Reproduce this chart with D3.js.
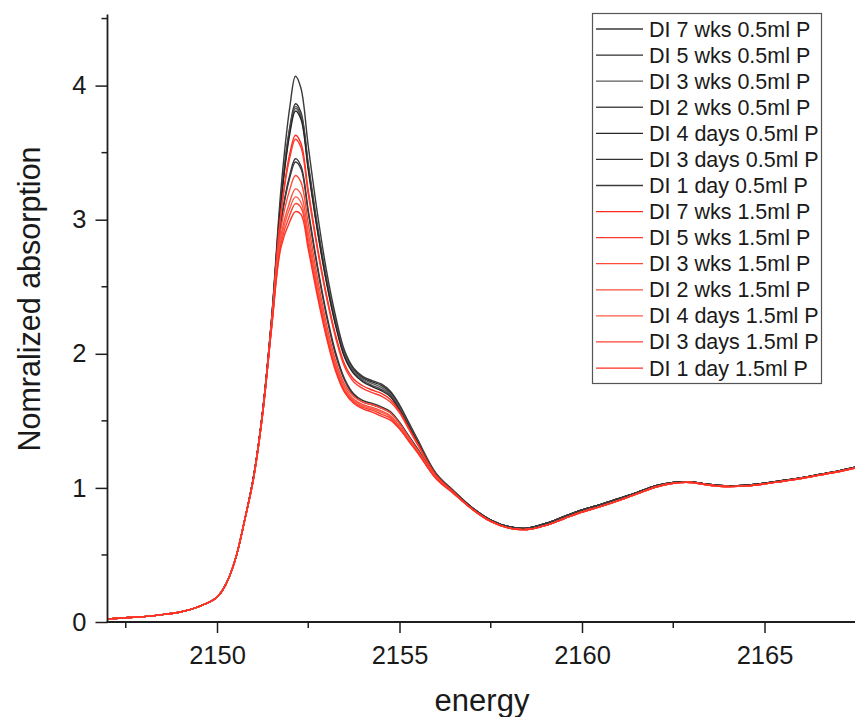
<!DOCTYPE html>
<html>
<head>
<meta charset="utf-8">
<script src="https://cdn.jsdelivr.net/npm/d3@7"></script>
<style>
  html, body { margin: 0; padding: 0; background: #fff; }
  svg { display: block; }
  text { font-family: "Liberation Sans", Arial, sans-serif; fill: #1a1a1a; }
</style>
</head>
<body>
<svg id="chart" width="855" height="717"></svg>
<script>
// ---- energy grids (eV) ----
const energyPre  = [2147.0, 2147.5, 2148.0, 2148.5, 2149.0, 2149.5, 2150.0, 2150.25, 2150.5, 2150.75];
const energyPeak = [2151.0, 2151.25, 2151.5, 2151.75, 2152.0, 2152.15, 2152.3, 2152.5, 2152.75, 2153.0, 2153.25,
                    2153.5, 2153.75, 2154.0, 2154.25, 2154.5, 2154.75, 2155.0, 2155.25, 2155.5, 2156.0, 2156.5];
const energyTail = [2157.0, 2157.5, 2158.0, 2158.5, 2159.0, 2159.5, 2160.0, 2160.5, 2161.0, 2161.5, 2162.0,
                    2162.5, 2163.0, 2163.5, 2164.0, 2164.5, 2165.0, 2165.5, 2166.0, 2166.5, 2167.0, 2167.5];

// ---- pre-edge (common to all samples) ----
const preEdge = [0.022, 0.032, 0.040, 0.055, 0.075, 0.115, 0.185, 0.285, 0.465, 0.750];

// ---- post-edge tails ----
const tailBlack = [0.850, 0.760, 0.710, 0.700, 0.735, 0.785, 0.835, 0.875, 0.920, 0.965, 1.015,
                   1.040, 1.045, 1.025, 1.015, 1.020, 1.035, 1.055, 1.075, 1.100, 1.125, 1.155];
const tailRed   = [0.840, 0.750, 0.700, 0.690, 0.720, 0.770, 0.820, 0.860, 0.905, 0.955, 1.005,
                   1.035, 1.040, 1.020, 1.010, 1.015, 1.030, 1.050, 1.070, 1.095, 1.120, 1.150];

// ---- white-line region, one array per sample ----
const peak_7wks_05  = [1.08, 1.57, 2.28, 3.22, 3.85, 4.07, 3.98, 3.55, 3.05, 2.62, 2.28, 2.02, 1.89, 1.83, 1.80, 1.775, 1.72, 1.62, 1.49, 1.36, 1.11, 0.975];
const peak_5wks_05  = [1.08, 1.57, 2.27, 3.15, 3.70, 3.865, 3.80, 3.42, 2.96, 2.56, 2.24, 2.00, 1.88, 1.82, 1.79, 1.765, 1.71, 1.61, 1.48, 1.35, 1.105, 0.97];
const peak_3wks_05  = [1.08, 1.57, 2.27, 3.14, 3.68, 3.845, 3.78, 3.40, 2.94, 2.55, 2.23, 1.99, 1.87, 1.81, 1.78, 1.75, 1.70, 1.60, 1.47, 1.35, 1.10, 0.97];
const peak_2wks_05  = [1.08, 1.57, 2.27, 3.13, 3.67, 3.83, 3.77, 3.39, 2.93, 2.54, 2.22, 1.98, 1.86, 1.80, 1.765, 1.735, 1.69, 1.59, 1.46, 1.34, 1.10, 0.965];
const peak_4days_05 = [1.08, 1.57, 2.26, 3.12, 3.65, 3.81, 3.75, 3.37, 2.92, 2.53, 2.21, 1.97, 1.85, 1.79, 1.755, 1.725, 1.68, 1.58, 1.46, 1.34, 1.095, 0.965];
const peak_3days_05 = [1.08, 1.56, 2.24, 2.98, 3.34, 3.455, 3.40, 3.07, 2.66, 2.30, 2.01, 1.81, 1.70, 1.65, 1.63, 1.605, 1.57, 1.49, 1.39, 1.29, 1.085, 0.96];
const peak_1day_05  = [1.08, 1.56, 2.24, 2.97, 3.32, 3.43, 3.38, 3.05, 2.64, 2.28, 1.99, 1.80, 1.69, 1.64, 1.62, 1.595, 1.56, 1.48, 1.38, 1.28, 1.08, 0.96];
const peak_7wks_15  = [1.07, 1.56, 2.25, 3.05, 3.50, 3.63, 3.57, 3.22, 2.80, 2.44, 2.14, 1.92, 1.81, 1.76, 1.73, 1.705, 1.66, 1.57, 1.45, 1.33, 1.095, 0.965];
const peak_5wks_15  = [1.07, 1.56, 2.25, 3.04, 3.47, 3.60, 3.54, 3.19, 2.78, 2.42, 2.12, 1.90, 1.79, 1.74, 1.71, 1.685, 1.64, 1.56, 1.44, 1.32, 1.09, 0.96];
const peak_3wks_15  = [1.07, 1.55, 2.23, 2.93, 3.23, 3.33, 3.28, 2.97, 2.57, 2.22, 1.95, 1.77, 1.68, 1.64, 1.62, 1.595, 1.56, 1.48, 1.38, 1.28, 1.08, 0.955];
const peak_2wks_15  = [1.07, 1.55, 2.22, 2.88, 3.14, 3.23, 3.19, 2.90, 2.52, 2.18, 1.92, 1.75, 1.66, 1.62, 1.60, 1.575, 1.54, 1.46, 1.37, 1.27, 1.075, 0.955];
const peak_4days_15 = [1.07, 1.55, 2.21, 2.85, 3.09, 3.17, 3.13, 2.86, 2.49, 2.16, 1.90, 1.73, 1.65, 1.61, 1.59, 1.565, 1.53, 1.45, 1.36, 1.27, 1.075, 0.955];
const peak_3days_15 = [1.07, 1.55, 2.21, 2.82, 3.04, 3.12, 3.09, 2.82, 2.46, 2.14, 1.89, 1.72, 1.64, 1.60, 1.58, 1.55, 1.52, 1.445, 1.355, 1.265, 1.07, 0.955];
const peak_1day_15  = [1.07, 1.55, 2.20, 2.79, 2.99, 3.06, 3.04, 2.78, 2.43, 2.12, 1.87, 1.71, 1.63, 1.59, 1.565, 1.535, 1.505, 1.44, 1.35, 1.26, 1.07, 0.955];

const seriesNames = [
  "DI 7 wks 0.5ml P", "DI 5 wks 0.5ml P", "DI 3 wks 0.5ml P", "DI 2 wks 0.5ml P",
  "DI 4 days 0.5ml P", "DI 3 days 0.5ml P", "DI 1 day 0.5ml P",
  "DI 7 wks 1.5ml P", "DI 5 wks 1.5ml P", "DI 3 wks 1.5ml P", "DI 2 wks 1.5ml P",
  "DI 4 days 1.5ml P", "DI 3 days 1.5ml P", "DI 1 day 1.5ml P"
];
const seriesPeaks = [
  peak_7wks_05, peak_5wks_05, peak_3wks_05, peak_2wks_05, peak_4days_05, peak_3days_05, peak_1day_05,
  peak_7wks_15, peak_5wks_15, peak_3wks_15, peak_2wks_15, peak_4days_15, peak_3days_15, peak_1day_15
];
const seriesColors = [
  "#3a3a3a", "#2e2e2e", "#5a5a5a", "#4e4e4e", "#262626", "#333333", "#3c3c3c",
  "#ff2b1f", "#ff3a2e", "#ff4838", "#f7513d", "#ff5a48", "#ff4132", "#ff3024"
];

const xTicksMajor = [2150, 2155, 2160, 2165];
const xTicksMinor = [2147.5, 2152.5, 2157.5, 2162.5];
const yTicksMajor = [0, 1, 2, 3, 4];
const yTicksMinor = [0.5, 1.5, 2.5, 3.5, 4.5];

// ---- assemble full spectra ----
const energy = energyPre.concat(energyPeak, energyTail);
const series = seriesNames.map((name, i) => {
  const tail = i < 7 ? tailBlack : tailRed;
  const vals = preEdge.concat(seriesPeaks[i], tail);
  return { name, color: seriesColors[i], points: energy.map((e, k) => [e, vals[k]]) };
});

// ---- layout ----
const svg = d3.select("#chart");
const x0 = 107.5, y0 = 622;
const x = d3.scaleLinear().domain([2147, 2170]).range([x0, x0 + 23 * 36.5]);
const y = d3.scaleLinear().domain([0, 4.53]).range([y0, y0 - 4.53 * 134.1]);

// ---- spectra ----
const line = d3.line().x(d => x(d[0])).y(d => y(d[1])).curve(d3.curveCatmullRom.alpha(0.5));
svg.append("g").selectAll("path").data(series).join("path")
  .attr("d", d => line(d.points))
  .attr("fill", "none")
  .attr("stroke", d => d.color)
  .attr("stroke-width", 1.4)
  .attr("stroke-linejoin", "round");

// ---- axes ----
const axisColor = "#1e1e1e";
const gx = svg.append("g").attr("transform", `translate(0,${y0})`);
gx.call(d3.axisBottom(x).tickValues(xTicksMajor).tickSize(11).tickPadding(13).tickFormat(d3.format("d")))
  .call(g => g.select(".domain").remove());
gx.selectAll(".tick line").attr("stroke", axisColor).attr("stroke-width", 1.5);
gx.selectAll(".tick text").attr("font-size", 25.5).attr("fill", "#1a1a1a")
  .attr("font-family", "Liberation Sans, Arial, sans-serif");
gx.selectAll(".minor").data(xTicksMinor).join("line").attr("class", "minor")
  .attr("x1", d => x(d)).attr("x2", d => x(d)).attr("y1", 0).attr("y2", 6)
  .attr("stroke", axisColor).attr("stroke-width", 1.5);
gx.append("line").attr("x1", x0 - 1).attr("x2", 900).attr("y1", 0).attr("y2", 0)
  .attr("stroke", axisColor).attr("stroke-width", 1.8);

const gy = svg.append("g").attr("transform", `translate(${x0},0)`);
gy.call(d3.axisLeft(y).tickValues(yTicksMajor).tickSize(12).tickPadding(9).tickFormat(d3.format("d")))
  .call(g => g.select(".domain").remove());
gy.selectAll(".tick line").attr("stroke", axisColor).attr("stroke-width", 1.5);
gy.selectAll(".tick text").attr("font-size", 25.5).attr("fill", "#1a1a1a")
  .attr("font-family", "Liberation Sans, Arial, sans-serif");
gy.selectAll(".minor").data(yTicksMinor).join("line").attr("class", "minor")
  .attr("x1", 0).attr("x2", -6).attr("y1", d => y(d)).attr("y2", d => y(d))
  .attr("stroke", axisColor).attr("stroke-width", 1.5);
gy.append("line").attr("x1", 0).attr("x2", 0).attr("y1", y(4.53)).attr("y2", y0 + 1)
  .attr("stroke", axisColor).attr("stroke-width", 1.8);

// ---- axis titles ----
svg.append("text").attr("x", 482).attr("y", 711).attr("text-anchor", "middle")
  .attr("font-size", 31).text("energy");
svg.append("text").attr("transform", "translate(40,299) rotate(-90)").attr("text-anchor", "middle")
  .attr("font-size", 30.5).text("Nomralized absorption");

// ---- legend ----
const legend = svg.append("g");
legend.append("rect").attr("x", 592.5).attr("y", 13.5).attr("width", 229).attr("height", 370)
  .attr("fill", "#fff").attr("stroke", "#555").attr("stroke-width", 1.2);
const rows = legend.selectAll("g.row").data(series).join("g").attr("class", "row")
  .attr("transform", (d, i) => `translate(0,${29 + i * 26.08})`);
rows.append("line").attr("x1", 596).attr("x2", 643).attr("y1", 0).attr("y2", 0)
  .attr("stroke", d => d.color).attr("stroke-width", 1.3);
rows.append("text").attr("x", 649).attr("y", 0).attr("dy", "0.35em")
  .attr("font-size", 21.5).text(d => d.name);
</script>
</body>
</html>
